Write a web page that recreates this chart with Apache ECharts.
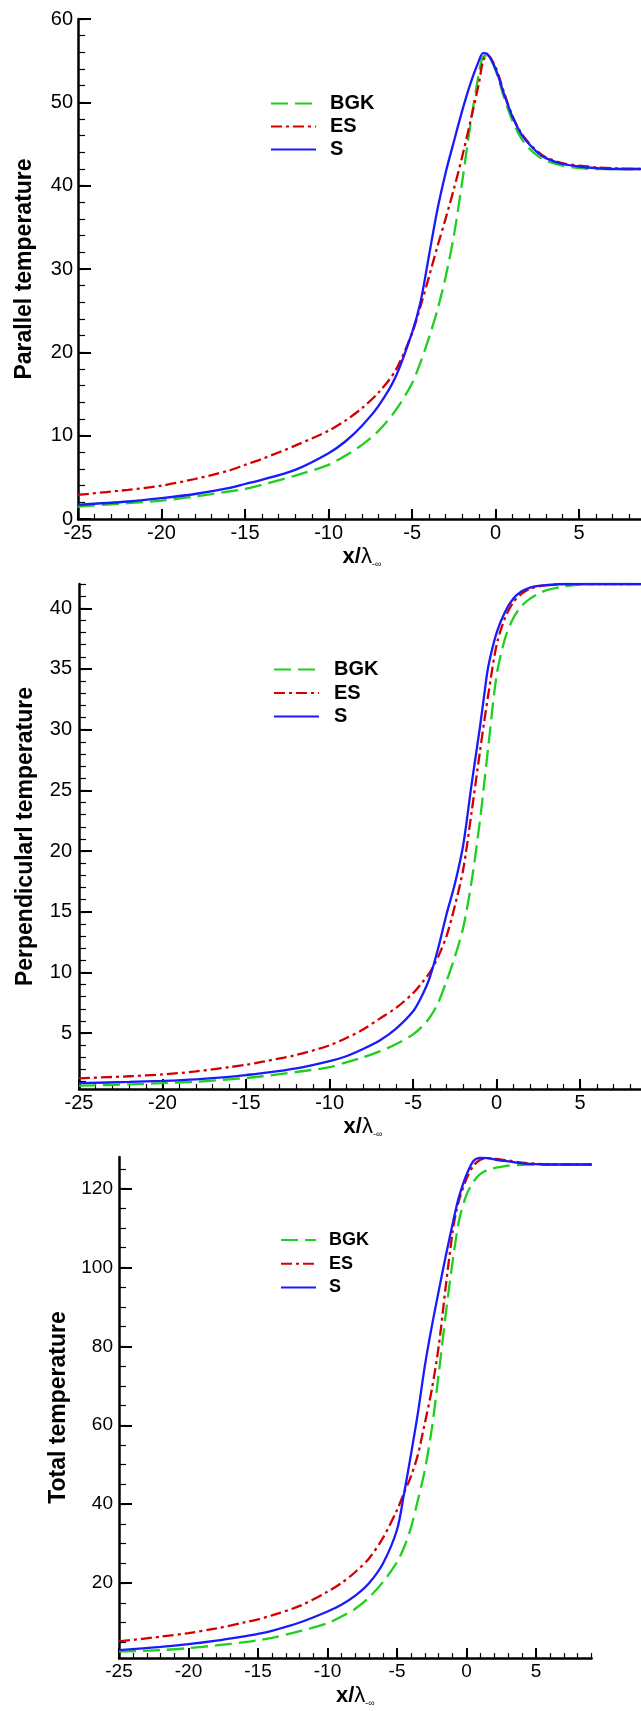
<!DOCTYPE html>
<html><head><meta charset="utf-8">
<script src="https://cdn.jsdelivr.net/npm/echarts@6/dist/echarts.min.js"></script>
<style>html,body{margin:0;padding:0;background:#fff}#c{width:641px;height:1711px}</style>
</head><body><div id="c"></div>
<script>
// ---------- data ----------
const xVals = [-25,-22,-20,-18,-16,-15,-14,-12,-10,-9,-8,-7,-6,-5,-4.5,-4,-3.5,-3,-2.5,-2,-1.5,-1,-0.75,-0.5,0,0.5,1,1.5,2,2.5,3,4,5,6,7,8,9];

const parBGK = [1.5,1.9,2.2,2.7,3.3,3.6,4.1,5.2,6.5,7.6,8.9,10.6,13.0,16.3,18.8,21.7,25.0,29.0,34.0,40.5,47.5,53.5,55.5,55.6,53.8,50.6,47.8,45.8,44.5,43.6,43.0,42.4,42.1,42.0,42.0,42.0,42.0];
const parES  = [2.9,3.5,4.0,4.8,5.8,6.5,7.2,8.8,10.6,11.8,13.3,15.2,17.8,22.3,25.5,29.0,32.6,36.0,39.6,43.5,47.8,52.3,55.0,55.7,54.2,51.2,48.4,46.4,45.1,44.1,43.4,42.7,42.4,42.2,42.1,42.0,42.0];
const parS   = [1.7,2.1,2.5,3.0,3.7,4.2,4.7,5.9,7.9,9.3,11.2,13.6,17.0,22.4,26.0,31.5,37.0,41.5,45.3,49.0,52.3,55.0,55.9,55.8,54.0,51.0,48.3,46.3,45.0,44.0,43.3,42.6,42.3,42.1,42.0,42.0,42.0];

const perpBGK = [0.67,0.78,0.88,1.0,1.2,1.3,1.45,1.8,2.2,2.6,3.0,3.5,4.1,4.9,5.5,6.3,7.5,9.3,11.3,13.7,17.5,22.5,25.5,28.6,34.5,37.5,39.2,40.2,40.8,41.2,41.5,41.8,41.95,42,42,42,42];
const perpES  = [1.28,1.45,1.6,1.85,2.2,2.4,2.65,3.2,4.0,4.6,5.3,6.2,7.1,8.3,9.1,10.0,11.3,13.0,15.5,18.5,23.2,28.2,30.6,32.9,37.0,39.2,40.5,41.2,41.6,41.8,41.9,42,42,42,42,42,42];
const perpS   = [0.88,0.98,1.07,1.2,1.4,1.55,1.7,2.1,2.7,3.1,3.7,4.4,5.4,6.8,8.0,9.6,12.0,14.8,17.3,20.5,25.5,30.2,32.8,35.2,38.0,39.7,40.8,41.4,41.7,41.85,41.9,42,42,42,42,42,42];

const totBGK = [2.6,3.0,3.5,4.2,5.0,5.5,6.1,7.8,9.8,11.5,13.5,16.4,20.3,25.3,29.0,34.0,41.0,48.6,59.0,73.0,88.0,101.5,107.5,112.5,118.4,121.7,123.7,124.7,125.2,125.5,125.8,126.0,126.1,126.1,126.1,126.1,126.1];
const totES  = [5.2,6.4,7.3,8.5,10.0,10.8,11.8,14.2,17.8,20.0,22.8,26.3,31.5,38.5,42.8,47.0,52.5,60.5,69.0,80.0,95.0,109.0,114.0,117.5,122.5,125.8,127.3,127.7,127.6,127.3,127.1,126.6,126.3,126.1,126.1,126.1,126.1];
const totS   = [3.0,3.8,4.5,5.4,6.5,7.1,7.9,10.0,12.8,14.5,16.8,20.0,25.0,33.5,42.5,52.5,63.0,75.0,85.0,94.0,102.8,111.0,115.0,118.4,123.5,127.0,127.8,127.7,127.4,127.1,126.9,126.4,126.2,126.1,126.1,126.1,126.1];

const seriesNames = ['BGK','ES','S'];
const xTickLabels = [-25,-20,-15,-10,-5,0,5];
const parTickLabels = [0,10,20,30,40,50,60];
const perpTickLabels = [5,10,15,20,25,30,35,40];
const totTickLabels = [20,40,60,80,100,120];
const yTitles = ['Parallel temperature','Perpendicularl temperature','Total temperature'];

// ---------- styles ----------
const FONT = 'Liberation Sans, Arial, Helvetica, sans-serif';
const colors = ['#1ecf1e','#d40000','#1a1aff'];
const dashes = [[17,7],[11,4,3,4],'solid'];

function steps(a,b,s){const r=[];for(let v=a;v<=b+1e-9;v+=s)r.push(+v.toFixed(6));return r;}

const charts = [
  {grid:{left:78,top:19,width:568,height:500}, ymin:0, ymax:60, ylab:parTickLabels, yminor:steps(0,60,2),
   data:[parBGK,parES,parS], fs:20, ymargin:5, nameGap:42,
   legend:{left:270,top:93.6,itemWidth:45,fs:20,gap:3,pad:9}},
  {grid:{left:79,top:584,width:568,height:505}, ymin:0.4, ymax:42, ylab:perpTickLabels, yminor:steps(1,42,1),
   data:[perpBGK,perpES,perpS], fs:20, ymargin:7, nameGap:42,
   legend:{left:273,top:659.5,itemWidth:45,fs:20,gap:3.5,pad:10}},
  {grid:{left:119,top:1157,width:472.6,height:501}, ymin:1, ymax:128, ylab:totTickLabels, yminor:steps(5,125,5),
   data:[totBGK,totES,totS], fs:19, ymargin:6, nameGap:32,
   legend:{left:280,top:1231,itemWidth:35,fs:18,gap:5.7,pad:8}}
];

const option = {animation:false, backgroundColor:'#fff', grid:[], xAxis:[], yAxis:[], series:[], legend:[]};
const xMinor = steps(-25,9,1);

charts.forEach((c,g)=>{
  option.grid.push(Object.assign({outerBoundsMode:'none', containLabel:false}, c.grid));
  const xName = '{x|x/}{l|λ}{s|-∞}';
  option.xAxis.push({
    type:'value', gridIndex:g, min:-25, max:9, position:'bottom',
    axisLine:{show:true,onZero:false,lineStyle:{color:'#000',width:2.5}},
    axisTick:{show:true,inside:true,length:10,customValues:xTickLabels,lineStyle:{color:'#000',width:2}},
    axisLabel:{show:true,customValues:xTickLabels,fontSize:c.fs,color:'#000',margin:4,fontFamily:FONT},
    splitLine:{show:false},
    name:xName, nameLocation:'middle', nameGap:25.5,
    nameTextStyle:{color:'#000',rich:{
      x:{fontSize:22,fontWeight:'bold',fontFamily:FONT,color:'#000',lineHeight:25},
      l:{fontSize:22,fontFamily:FONT,color:'#000',lineHeight:25},
      s:{fontSize:9,fontFamily:FONT,color:'#000',lineHeight:25,verticalAlign:'bottom'}
    }}
  });
  option.xAxis.push({
    type:'value', gridIndex:g, min:-25, max:9, position:'bottom',
    axisLine:{show:false,onZero:false},
    axisTick:{show:true,inside:true,length:5,customValues:xMinor,lineStyle:{color:'#000',width:1.2}},
    axisLabel:{show:false}, splitLine:{show:false}
  });
  option.yAxis.push({
    type:'value', gridIndex:g, min:c.ymin, max:c.ymax, position:'left',
    axisLine:{show:true,onZero:false,lineStyle:{color:'#000',width:2.5}},
    axisTick:{show:true,inside:true,length:13,customValues:c.ylab,lineStyle:{color:'#000',width:2}},
    axisLabel:{show:true,customValues:c.ylab,fontSize:c.fs,color:'#000',margin:c.ymargin,fontFamily:FONT},
    splitLine:{show:false},
    name:yTitles[g], nameLocation:'middle', nameGap:c.nameGap,
    nameTextStyle:{fontSize:23,fontWeight:'bold',fontFamily:FONT,color:'#000',lineHeight:23}
  });
  option.yAxis.push({
    type:'value', gridIndex:g, min:c.ymin, max:c.ymax, position:'left',
    axisLine:{show:false,onZero:false},
    axisTick:{show:true,inside:true,length:7,customValues:c.yminor,lineStyle:{color:'#000',width:1.2}},
    axisLabel:{show:false}, splitLine:{show:false}
  });
  c.data.forEach((arr,k)=>{
    option.series.push({
      type:'line', name:seriesNames[k], xAxisIndex:2*g, yAxisIndex:2*g,
      data:xVals.map((x,i)=>[x,arr[i]]),
      symbol:'none', showSymbol:false, smooth:0.3, clip:true,
      lineStyle:{color:colors[k],width:2.3,type:dashes[k]},
      itemStyle:{color:colors[k]}, z:2+k
    });
  });
  const L = c.legend;
  option.legend.push({
    orient:'vertical', left:L.left, top:L.top, padding:0, selectedMode:false,
    data:seriesNames, itemWidth:L.itemWidth, itemHeight:14, itemGap:L.gap,
    itemStyle:{opacity:0},
    textStyle:{fontSize:L.fs,fontWeight:'bold',color:'#000',fontFamily:FONT,lineHeight:L.fs,padding:[0,0,0,L.pad]}
  });
});

const chart = echarts.init(document.getElementById('c'), null, {renderer:'canvas'});
chart.setOption(option);
</script>
</body></html>
